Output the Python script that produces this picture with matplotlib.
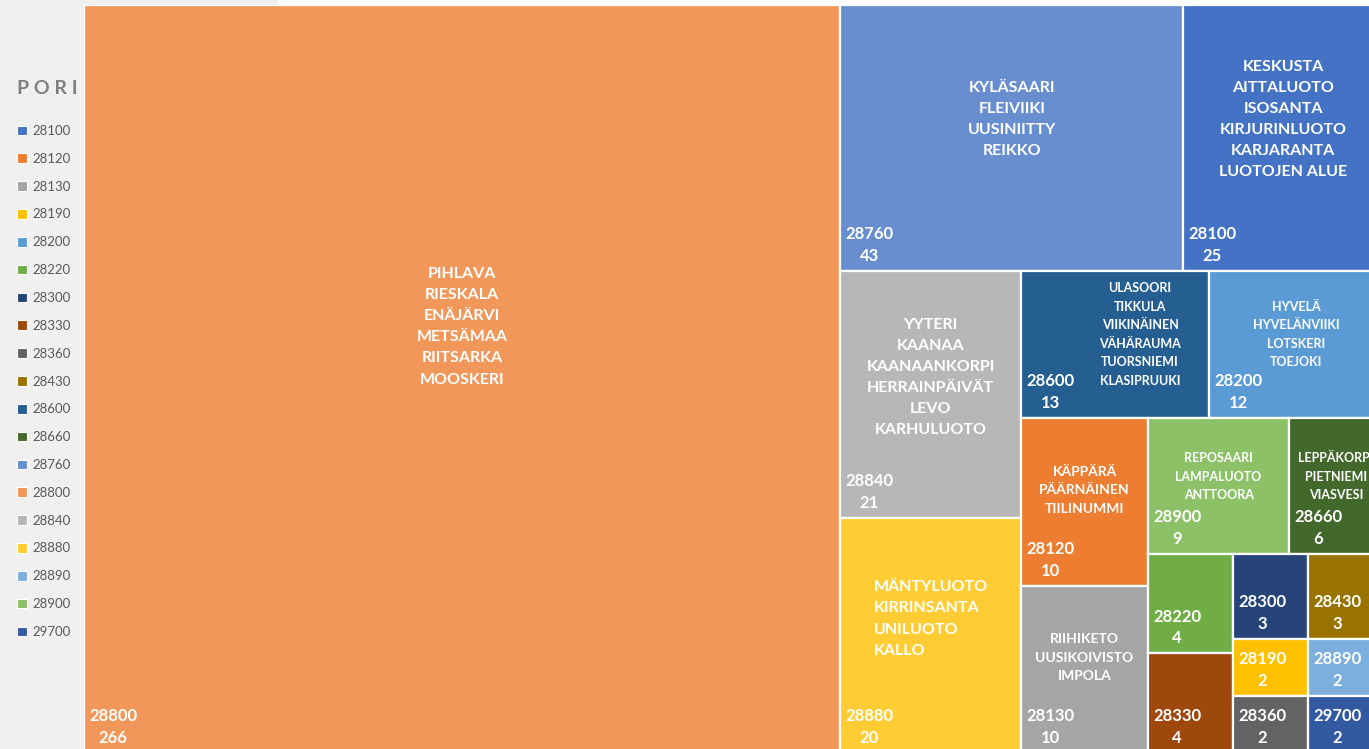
import matplotlib
matplotlib.use("Agg")
import matplotlib.pyplot as plt
from matplotlib.patches import Rectangle, Patch

plt.rcParams['font.family'] = ['Lato', 'DejaVu Sans']

# postinumerot, lukumaarat ja alueet
codes = ['28100', '28120', '28130', '28190', '28200', '28220', '28300', '28330', '28360',
         '28430', '28600', '28660', '28760', '28800', '28840', '28880', '28890', '28900', '29700']
counts = [25, 10, 10, 2, 12, 4, 3, 4, 2, 3, 13, 6, 43, 266, 21, 20, 2, 9, 2]
colors = ['#4472C4', '#ED7D31', '#A5A5A5', '#FFC000', '#5B9BD5', '#70AD47', '#264478', '#9E480E',
          '#636363', '#997300', '#255E91', '#43682B', '#698ED0', '#F1975A', '#B7B7B7', '#FFCD33',
          '#7CAFDD', '#8CC168', '#335AA1']
names = {
    '28800': ['PIHLAVA', 'RIESKALA', 'ENÄJÄRVI', 'METSÄMAA', 'RIITSARKA', 'MOOSKERI'],
    '28760': ['KYLÄSAARI', 'FLEIVIIKI', 'UUSINIITTY', 'REIKKO'],
    '28100': ['KESKUSTA', 'AITTALUOTO', 'ISOSANTA', 'KIRJURINLUOTO', 'KARJARANTA', 'LUOTOJEN ALUE'],
    '28840': ['YYTERI', 'KAANAA', 'KAANAANKORPI', 'HERRAINPÄIVÄT', 'LEVO', 'KARHULUOTO'],
    '28600': ['ULASOORI', 'TIKKULA', 'VIIKINÄINEN', 'VÄHÄRAUMA', 'TUORSNIEMI', 'KLASIPRUUKI'],
    '28200': ['HYVELÄ', 'HYVELÄNVIIKI', 'LOTSKERI', 'TOEJOKI'],
    '28880': ['MÄNTYLUOTO', 'KIRRINSANTA', 'UNILUOTO', 'KALLO'],
    '28120': ['KÄPPÄRÄ', 'PÄÄRNÄINEN', 'TIILINUMMI'],
    '28130': ['RIIHIKETO', 'UUSIKOIVISTO', 'IMPOLA'],
    '28900': ['REPOSAARI', 'LAMPALUOTO', 'ANTTOORA'],
    '28660': ['LEPPÄKORPI', 'PIETNIEMI', 'VIASVESI'],
}


def worst(row, side):
    s = sum(row)
    return max(max(side * side * r / (s * s), s * s / (side * side * r)) for r in row)


def squarify(vals, x, y, dx, dy):
    rects = []
    vals = list(vals)
    while vals:
        side = min(dx, dy)
        row = [vals.pop(0)]
        while vals and worst(row + [vals[0]], side) <= worst(row, side):
            row.append(vals.pop(0))
        s = sum(row)
        if dx >= dy:
            w = s / dy
            yy = y
            for v in row:
                h = v / w
                rects.append((x, yy, w, h))
                yy += h
            x += w
            dx -= w
        else:
            h = s / dx
            xx = x
            for v in row:
                w = v / h
                rects.append((xx, y, w, h))
                xx += w
            y += h
            dy -= h
    return rects


W, H = 1299.0, 748.0
order = sorted(range(len(codes)), key=lambda i: -counts[i])
tot = sum(counts)
areas = [counts[i] * W * H / tot for i in order]
rects = squarify(areas, 0, 0, W, H)

fig = plt.figure(figsize=(13.69, 7.49), dpi=100)
fig.patch.set_facecolor('#f0f0f0')
# valkoinen kaistale ylhaalla
fig.patches.append(Rectangle((278 / 1369, 1 - 5 / 749), 1, 5 / 749, transform=fig.transFigure,
                             facecolor='white', edgecolor='none', zorder=0))

ax = fig.add_axes([84 / 1369, 1 - 753 / 749, W / 1369, H / 749])
ax.set_xlim(0, W)
ax.set_ylim(H, 0)
ax.axis('off')
renderer = fig.canvas.get_renderer()

for k, i in enumerate(order):
    x, y, w, h = rects[k]
    c = codes[i]
    ax.add_patch(Rectangle((x, y), w, h, facecolor=colors[i], edgecolor='white', linewidth=1.6))
    lab = ax.text(x + 5, y + h - 7, f"{c}\n{counts[i]}", color='white', fontsize=12,
                  fontweight='bold', ha='left', va='bottom', multialignment='center',
                  linespacing=1.45, clip_on=False)
    if c in names:
        fs = 11.5 if h > 200 else (10 if h > 150 else 9)
        ma = 'left' if c == '28880' else 'center'
        t = ax.text(x + w / 2, y + h * 0.43, "\n".join(names[c]), color='white', fontsize=fs,
                    fontweight='bold', ha='center', va='center', multialignment=ma,
                    linespacing=1.65)
        # nimet siirtyvat oikealle, jos ne osuisivat numeroon
        b1 = t.get_window_extent(renderer)
        b2 = lab.get_window_extent(renderer)
        vert = min(b1.y1, b2.y1) - max(b1.y0, b2.y0)
        if vert > 5 and b1.x0 < b2.x1 + 20:
            t.set_x(x + w / 2 + (b2.x1 + 25 - b1.x0))

# legenda
fig.text(17 / 1369, 1 - 88 / 749, "P O R I", color='#7f7f7f', fontsize=14, fontweight='bold',
         va='center', ha='left')
handles = [Patch(facecolor=colors[i], edgecolor='white', linewidth=0.8) for i in range(len(codes))]
fig.legend(handles, codes, loc='upper left', bbox_to_anchor=(17 / 1369, 1 - 125 / 749),
           frameon=False, fontsize=9.5, labelcolor='#595959', handlelength=0.75, handleheight=0.75,
           handletextpad=0.45, labelspacing=1.2, borderpad=0, borderaxespad=0)

fig.savefig('out.png', dpi=100, facecolor=fig.get_facecolor())
